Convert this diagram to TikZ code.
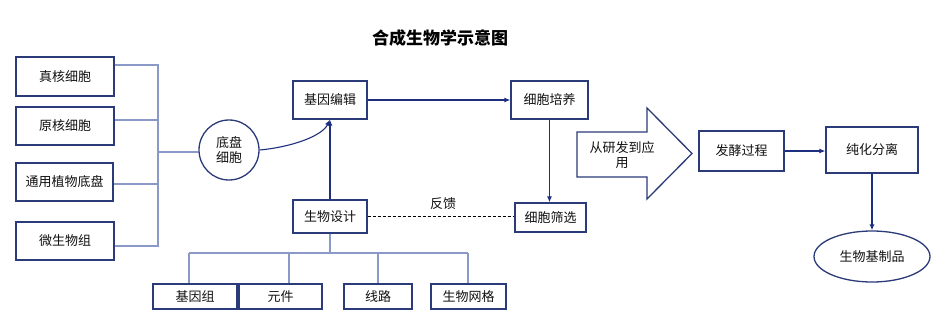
\documentclass[tikz,border=0pt]{standalone}
\usepackage{fontspec}
\setmainfont{Noto Sans CJK SC}
\usetikzlibrary{arrows.meta,shapes.geometric,calc}
\definecolor{boxc}{HTML}{2B3A78}
\definecolor{arrc}{HTML}{1F2F80}
\definecolor{lightc}{HTML}{8B99C9}
\definecolor{txtc}{HTML}{111111}
\tikzset{
  box/.style={draw=boxc, line width=1.3pt, rectangle, inner sep=0pt, align=center, text=txtc, font=\fontsize{13}{15}\selectfont},
  arr/.style={draw=arrc, line width=1.1pt, -{Latex[length=6pt,width=5pt]}},
  light/.style={draw=lightc, line width=1.1pt},
}
\begin{document}
\begin{tikzpicture}[x=1pt,y=-1pt]
\useasboundingbox (0,0) rectangle (950,323);
\fill[white] (0,0) rectangle (950,323);
% title
\node[font=\fontsize{17}{20}\selectfont\bfseries, text=black] (title) at (440,38) {合成生物学示意图};
% left boxes
\node[box, minimum width=98pt, minimum height=39pt] (zh) at (65,76.5) {真核细胞};
\node[box, minimum width=98pt, minimum height=38pt] (yh) at (65,126) {原核细胞};
\node[box, minimum width=97pt, minimum height=38pt] (ty) at (64.5,182) {通用植物底盘};
\node[box, minimum width=98pt, minimum height=38pt] (ws) at (65,241) {微生物组};
% chassis circle
\node[box, circle, minimum size=60pt] (dp) at (229,150) {底盘\\细胞};
% bracket
\coordinate (b1) at (158,65);
\coordinate (b2) at (158,120);
\coordinate (b3) at (158,184);
\coordinate (b4) at (158,246);
\coordinate (bm) at (158,152);
\draw[light] (b1 -| zh.east) -- (b1) -- (b4) -- (b4 -| ws.east);
\draw[light] (b2 -| yh.east) -- (b2);
\draw[light] (b3 -| ty.east) -- (b3);
\draw[light] (bm) -- (bm -| dp.west);
% middle boxes
\node[box, minimum width=74pt, minimum height=38pt] (jybj) at (330,100) {基因编辑};
\node[box, minimum width=74pt, minimum height=33pt] (swsj) at (330,216.5) {生物设计};
\node[box, minimum width=77pt, minimum height=38pt] (xbpy) at (549.5,100) {细胞培养};
\node[box, minimum width=71pt, minimum height=29pt] (xbsx) at (550.5,217.5) {细胞筛选};
% connectors
\draw[arr] (dp.east) .. controls (292,147) and (322,136) .. (jybj.south);
\draw[arr] (swsj.north) -- (jybj.south);
\draw[arr] (jybj.east) -- (jybj.east -| xbpy.west);
\draw[arr] (xbpy.south) -- (xbpy.south |- xbsx.north);
\draw[draw=black, line width=0.9pt, dashed, dash pattern=on 3pt off 2pt] (swsj.east) -- (swsj.east -| xbsx.west);
\node[font=\fontsize{13}{15}\selectfont, text=txtc] (fk) at (443,204) {反馈};
% bottom boxes
\node[box, minimum width=84pt, minimum height=25pt] (jyz) at (195,296.5) {基因组};
\node[box, minimum width=83pt, minimum height=25pt] (yj) at (280.5,296.5) {元件};
\node[box, minimum width=68pt, minimum height=25pt] (xl) at (378,296.5) {线路};
\node[box, minimum width=75pt, minimum height=25pt] (swwg) at (468.5,296.5) {生物网格};
\coordinate (t0) at (330,253);
\coordinate (t1) at (189,253);
\coordinate (t2) at (289,253);
\coordinate (t3) at (378,253);
\coordinate (t4) at (468,253);
\draw[light] (swsj.south) -- (t0);
\draw[light] (t1) -- (t4);
\draw[light] (t1) -- (t1 |- jyz.north);
\draw[light] (t2) -- (t2 |- yj.north);
\draw[light] (t3) -- (t3 |- xl.north);
\draw[light] (t4) -- (t4 |- swwg.north);
% big arrow
\draw[draw=boxc, line width=1.3pt, fill=white] (577,132) -- (647,132) -- (647,108) -- (692,153.5) -- (647,199) -- (647,177) -- (577,177) -- cycle;
\node[align=center, font=\fontsize{13}{15}\selectfont, text=txtc] (app) at (622,155) {从研发到应\\用};
% right side
\node[box, minimum width=85pt, minimum height=40pt] (fj) at (741.5,151) {发酵过程};
\node[box, minimum width=92pt, minimum height=46pt] (chfl) at (872,150) {纯化分离};
\node[box, ellipse, minimum width=116pt, minimum height=51pt] (sw) at (872,256.5) {生物基制品};
\draw[arr] (fj.east) -- (fj.east -| chfl.west);
\draw[arr] (chfl.south) -- (sw.north);
\end{tikzpicture}
\end{document}
